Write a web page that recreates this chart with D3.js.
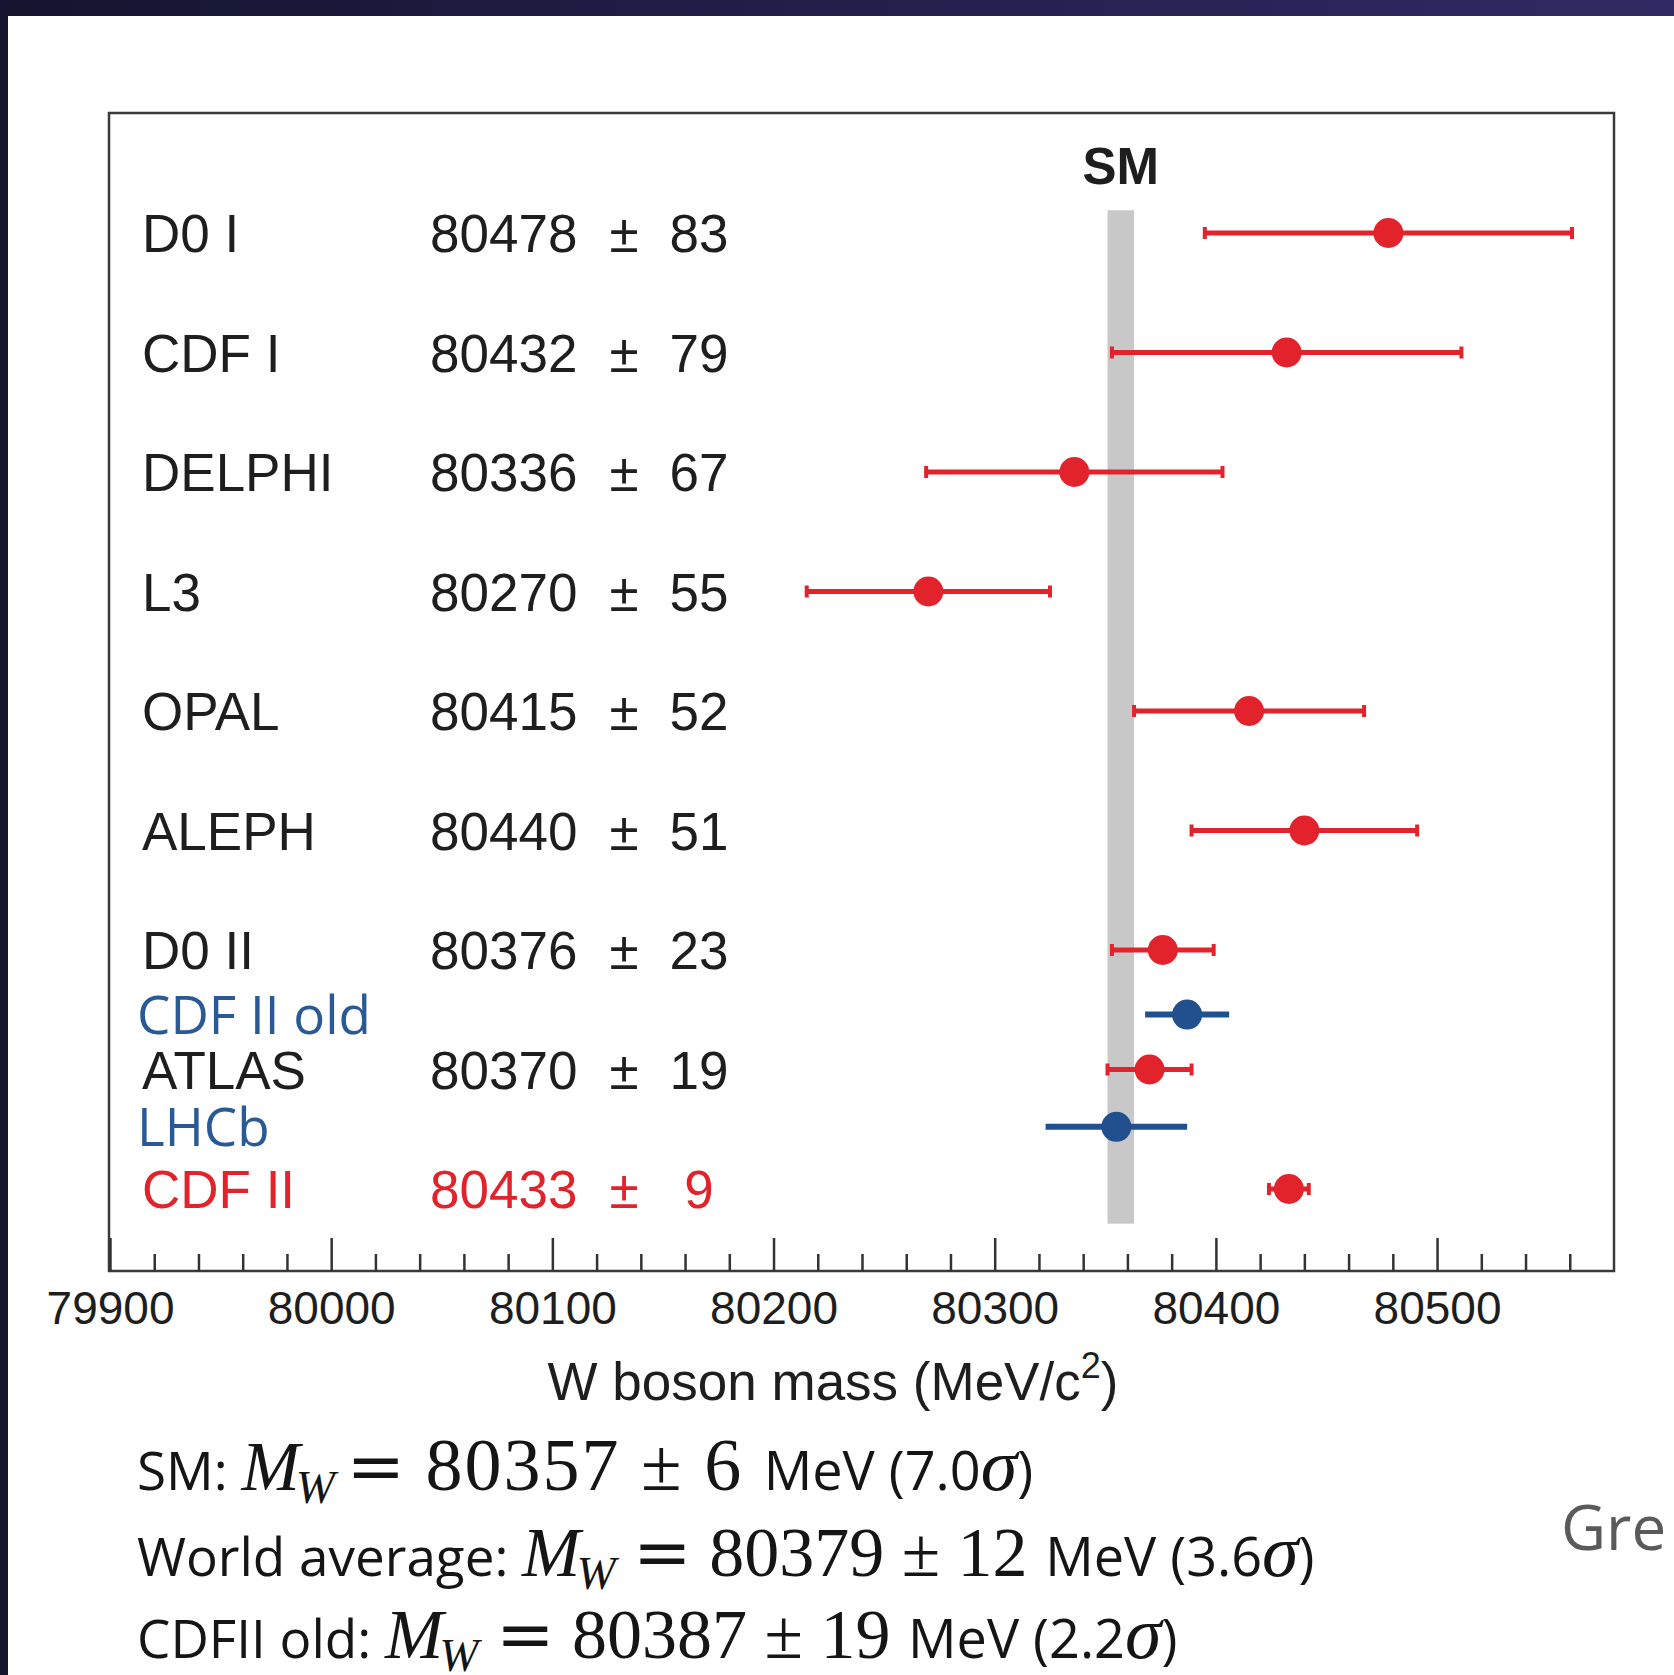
<!DOCTYPE html>
<html>
<head>
<meta charset="utf-8">
<script src="https://cdn.jsdelivr.net/npm/d3@7"></script>
<style>
  body { margin: 0; background: #fff; }
  svg { display: block; }
  text { white-space: pre; }
</style>
</head>
<body>
<div id="chart"></div>
<script>
// Measurements (MeV/c^2)
const labels = ["D0 I", "CDF I", "DELPHI", "L3", "OPAL", "ALEPH", "D0 II", "CDF II old", "ATLAS", "LHCb", "CDF II"];
const masses = [80478, 80432, 80336, 80270, 80415, 80440, 80376, 80387, 80370, 80355, 80433];
const errors = [83, 79, 67, 55, 52, 51, 23, 19, 19, 32, 9];
const rowPos = [0, 1, 2, 3, 4, 5, 6, 6.54, 7, 7.48, 8];
const kinds = ["old", "old", "old", "old", "old", "old", "old", "ref", "old", "ref", "new"];

// Standard model band
const smMass = 80357;
const smErr = 6;

// Axis ticks
const majorTicks = [79900, 80000, 80100, 80200, 80300, 80400, 80500];
const minorTicks = d3.range(79920, 80580, 20).filter(d => d % 100 !== 0);

// Summary lines under the chart
const summaryLabels = ["SM: ", "World average: ", "CDFII old: "];
const summaryMass = [80357, 80379, 80387];
const summaryErr = [6, 12, 19];
const summarySigma = ["7.0", "3.6", "2.2"];

const W = 1674, H = 1675;
const frame = {left: 109, right: 1614, top: 113, bottom: 1271};

const colors = {old: "#e3232b", new: "#e3232b", ref: "#22508f"};
const textColors = {old: "#1e1e1e", new: "#e3232b", ref: "#2a5a96"};

var svg = d3.select("#chart")
  .append("svg")
    .attr("width", W)
    .attr("height", H);

// slide background + dark border
var defs = svg.append("defs");
var grad = defs.append("linearGradient").attr("id", "topband");
grad.append("stop").attr("offset", "0%").attr("stop-color", "#14142f");
grad.append("stop").attr("offset", "100%").attr("stop-color", "#302a64");

svg.append("rect").attr("width", W).attr("height", H).attr("fill", "#fff");
svg.append("rect").attr("width", W).attr("height", 16).attr("fill", "url(#topband)");
svg.append("rect").attr("width", 8).attr("height", H).attr("fill", "#15152f");

// scales
var x = d3.scaleLinear()
    .domain([79900, 80580])
    .range([110, 1614]);

var y = d3.scaleLinear()
    .domain([0, 8])
    .range([233, 1189]);

// SM band
svg.append("rect")
    .attr("x", x(smMass - smErr))
    .attr("width", x(smMass + smErr) - x(smMass - smErr))
    .attr("y", y(-0.19))
    .attr("height", y(8.29) - y(-0.19))
    .attr("fill", "#c8c8c8");

svg.append("text")
    .attr("x", x(smMass))
    .attr("y", 184)
    .attr("text-anchor", "middle")
    .style("font-family", "'Liberation Sans', Arial, sans-serif")
    .style("font-weight", "bold")
    .style("font-size", "51px")
    .attr("fill", "#1e1e1e")
    .text("SM");

// frame
svg.append("rect")
    .attr("x", frame.left)
    .attr("y", frame.top)
    .attr("width", frame.right - frame.left)
    .attr("height", frame.bottom - frame.top)
    .attr("fill", "none")
    .attr("stroke", "#3a3a3a")
    .attr("stroke-width", 2.5);

// axis: minor ticks, then major ticks with labels (ticks pointing inward)
var minorAxis = svg.append("g")
    .attr("transform", "translate(0," + frame.bottom + ")")
    .call(d3.axisBottom(x).tickValues(minorTicks).tickSize(-17).tickFormat(""));
minorAxis.select(".domain").remove();

var majorAxis = svg.append("g")
    .attr("transform", "translate(0," + frame.bottom + ")")
    .call(d3.axisBottom(x).tickValues(majorTicks).tickSize(-33).tickPadding(20).tickFormat(d3.format("d")));
majorAxis.select(".domain").remove();

svg.selectAll(".tick line")
    .attr("stroke", "#333")
    .attr("stroke-width", 2.5);
majorAxis.selectAll("text")
    .style("font-family", "'Liberation Sans', Arial, sans-serif")
    .style("font-size", "46px")
    .attr("fill", "#1e1e1e");

// axis title
var xt = svg.append("text")
    .attr("x", 833)
    .attr("y", 1400)
    .attr("text-anchor", "middle")
    .style("font-family", "'Liberation Sans', Arial, sans-serif")
    .style("font-size", "53px")
    .attr("fill", "#1e1e1e");
xt.append("tspan").text("W boson mass (MeV/c");
xt.append("tspan").attr("dy", -22).style("font-size", "36px").text("2");
xt.append("tspan").attr("dy", 22).text(")");

// rows
var rows = labels.map((d, i) => ({
  name: d, m: masses[i], e: errors[i], pos: rowPos[i], kind: kinds[i]
}));

var g = svg.selectAll(".row")
  .data(rows)
  .enter()
  .append("g")
    .attr("class", "row");

// names
g.append("text")
    .attr("x", d => d.kind === "ref" ? 137 : 142)
    .attr("y", d => y(d.pos) + 19)
    .style("font-family", d => d.kind === "ref" ? "'Open Sans', sans-serif" : "'Liberation Sans', Arial, sans-serif")
    .style("font-size", "53px")
    .attr("fill", d => textColors[d.kind])
    .text(d => d.name);

// value columns (only for the non-reference rows)
var vals = g.filter(d => d.kind !== "ref");
vals.append("text")
    .attr("x", 430)
    .attr("y", d => y(d.pos) + 19)
    .style("font-family", "'Liberation Sans', Arial, sans-serif")
    .style("font-size", "53px")
    .attr("fill", d => textColors[d.kind])
    .text(d => d.m);
vals.append("text")
    .attr("x", 624)
    .attr("y", d => y(d.pos) + 19)
    .attr("text-anchor", "middle")
    .style("font-family", "'Liberation Sans', Arial, sans-serif")
    .style("font-size", "53px")
    .attr("fill", d => textColors[d.kind])
    .text("\u00b1");
vals.append("text")
    .attr("x", 699)
    .attr("y", d => y(d.pos) + 19)
    .attr("text-anchor", "middle")
    .style("font-family", "'Liberation Sans', Arial, sans-serif")
    .style("font-size", "53px")
    .attr("fill", d => textColors[d.kind])
    .text(d => d.e);

// error bars
g.append("line")
    .attr("x1", d => x(d.m - d.e))
    .attr("x2", d => x(d.m + d.e))
    .attr("y1", d => y(d.pos))
    .attr("y2", d => y(d.pos))
    .attr("stroke", d => colors[d.kind])
    .attr("stroke-width", d => d.kind === "ref" ? 6 : 5);

// end caps
g.filter(d => d.kind !== "ref").selectAll(".cap")
  .data(d => [d.m - d.e, d.m + d.e].map(v => ({v: v, pos: d.pos, kind: d.kind})))
  .enter()
  .append("line")
    .attr("class", "cap")
    .attr("x1", d => x(d.v))
    .attr("x2", d => x(d.v))
    .attr("y1", d => y(d.pos) - 6)
    .attr("y2", d => y(d.pos) + 6)
    .attr("stroke", d => colors[d.kind])
    .attr("stroke-width", 4);

// central values
g.append("circle")
    .attr("cx", d => x(d.m))
    .attr("cy", d => y(d.pos))
    .attr("r", 15)
    .attr("fill", d => colors[d.kind]);

// summary lines
var sans = "'Open Sans', sans-serif";
var serif = "'Liberation Serif', 'Times New Roman', serif";
var eqFont = "'DejaVu Serif', serif";
var baselines = [1490, 1576, 1658];
// the first equation is drawn a little wider in the slide
var numSize = [74, 70, 70];
var numSpacing = [2, 0, 0];
var eqShift = [-6, 0, 0];

summaryLabels.forEach((lab, i) => {
  var t = svg.append("text")
      .attr("x", 137)
      .attr("y", baselines[i])
      .attr("fill", "#151515");
  t.append("tspan").style("font-family", sans).style("font-size", "53px").text(lab);
  t.append("tspan").style("font-family", serif).style("font-style", "italic").style("font-size", "70px").text("M");
  t.append("tspan").attr("dx", -4).attr("dy", 13).style("font-family", serif).style("font-style", "italic").style("font-size", "47px").text("W");
  t.append("tspan").attr("dy", -13).style("font-family", serif).style("font-size", "70px").text(" ");
  t.append("tspan").attr("dx", eqShift[i]).style("font-family", eqFont).style("font-size", "70px").text("=");
  t.append("tspan").style("font-family", serif).style("font-size", numSize[i] + "px")
      .style("letter-spacing", numSpacing[i] + "px")
      .text(" " + summaryMass[i] + " \u00b1 " + summaryErr[i] + " ");
  t.append("tspan").style("font-family", sans).style("font-size", "54px").text("MeV (" + summarySigma[i]);
  t.append("tspan").style("font-family", serif).style("font-style", "italic").style("font-size", "74px").text("\u03c3");
  t.append("tspan").style("font-family", sans).style("font-size", "54px").text(")");
});

// cut-off slide text on the right
svg.append("text")
    .attr("x", 1561)
    .attr("y", 1550)
    .style("font-family", sans)
    .style("font-size", "62px")
    .attr("fill", "#5a5a5a")
    .text("Gre");
</script>
</body>
</html>
